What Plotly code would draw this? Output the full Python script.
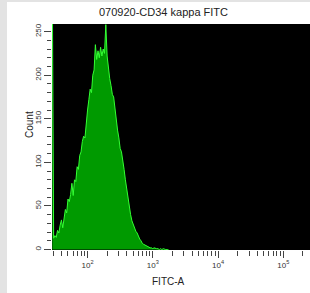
import plotly.graph_objects as go

# ---- data ----
title_text = "070920-CD34 kappa FITC"
x_label = "FITC-A"
y_label = "Count"

bin_start_log = 1.46   # log10 of first bin (FITC-A)
bin_step_log = 0.02    # bin width in decades

counts = [
    300, 13, 16, 14, 22, 19, 28, 34, 25, 38,
    46, 42, 58, 55, 63, 76, 62, 80, 78, 95,
    92, 108, 112, 124, 130, 128, 150, 160, 172, 184,
    180, 200, 206, 235, 218, 228, 220, 232, 222, 230,
    225, 258, 222, 205, 196, 188, 178, 175, 160, 145,
    137, 128, 116, 112, 98, 92, 80, 70, 55, 48,
    40, 33, 28, 24, 21, 19, 15, 12, 10, 7,
    6, 5, 4, 3, 3, 2, 2, 1, 2, 1,
    1, 1, 0, 1, 0, 1, 0, 0, 0, 0,
]

y_ticks = [0, 50, 100, 150, 200, 250]
y_minor = [10, 20, 30, 40, 60, 70, 80, 90, 110, 120, 130, 140,
           160, 170, 180, 190, 210, 220, 230, 240]
x_ticks = [100, 1000, 10000, 100000]
x_ticktext = ["10<sup>2</sup>", "10<sup>3</sup>", "10<sup>4</sup>", "10<sup>5</sup>"]
x_minor = [30, 40, 50, 60, 70, 80, 90,
           200, 300, 400, 500, 600, 700, 800, 900,
           2000, 3000, 4000, 5000, 6000, 7000, 8000, 9000,
           20000, 30000, 40000, 50000, 60000, 70000, 80000, 90000,
           200000]

x_vals = [10 ** (bin_start_log + bin_step_log * i) for i in range(len(counts))]

FONT = "Arial, Liberation Sans, sans-serif"

fig = go.Figure()
fig.add_trace(go.Scatter(
    x=x_vals, y=counts, mode="lines",
    line=dict(color="#33ff33", width=1),
    fill="tozeroy", fillcolor="#009a00",
    hoverinfo="skip", showlegend=False,
))

W, H = 310, 293
L, R, T, B = 52, 0, 24, 43
pw, ph = W - L - R, H - T - B

def px(x):
    return (x - L) / pw

def py(y):
    return (H - B - y) / ph

shapes = [
    dict(type="rect", xref="paper", yref="paper", layer="below",
         x0=px(0), x1=px(7), y0=py(H), y1=py(0),
         fillcolor="#e3e3e3", line=dict(width=0)),
    dict(type="rect", xref="paper", yref="paper", layer="below",
         x0=px(0), x1=1.0, y0=py(2), y1=py(0),
         fillcolor="#e3e3e3", line=dict(width=0)),
]

annotations = [
    dict(text=title_text, xref="paper", yref="paper", x=px(163), y=py(12),
         showarrow=False, font=dict(family=FONT, size=11, color="#222"),
         xanchor="center", yanchor="middle"),
    dict(text=x_label, xref="paper", yref="paper", x=px(168), y=py(281),
         showarrow=False, font=dict(family=FONT, size=10, color="#222"),
         xanchor="center", yanchor="middle"),
    dict(text=y_label, xref="paper", yref="paper", x=px(29), y=py(125),
         showarrow=False, textangle=-90, font=dict(family=FONT, size=10, color="#222"),
         xanchor="center", yanchor="middle"),
]

fig.update_layout(
    width=W, height=H, autosize=False,
    margin=dict(l=L, r=R, t=T, b=B, pad=0, autoexpand=False),
    paper_bgcolor="white", plot_bgcolor="black",
    shapes=shapes, annotations=annotations,
    font=dict(family=FONT, size=8, color="#333"),
    xaxis=dict(
        type="log", range=[1.455, 5.41], showgrid=False, zeroline=False,
        showline=False, automargin=False,
        tickmode="array", tickvals=x_ticks, ticktext=x_ticktext,
        ticks="outside", ticklen=7, tickwidth=1, tickcolor="#444",
        tickfont=dict(family=FONT, size=8, color="#333"),
        minor=dict(tickmode="array", tickvals=x_minor, ticks="outside",
                   ticklen=5, tickwidth=1, tickcolor="#444", showgrid=False),
        fixedrange=True,
    ),
    yaxis=dict(
        range=[-0.5, 258.7], showgrid=False, zeroline=False, showline=False,
        automargin=False,
        tickmode="array", tickvals=y_ticks, ticktext=[str(v) for v in y_ticks],
        ticks="outside", ticklen=7, tickwidth=1, tickcolor="#444", tickangle=-90,
        tickfont=dict(family=FONT, size=8, color="#333"),
        minor=dict(tickmode="array", tickvals=y_minor, ticks="outside",
                   ticklen=4, tickwidth=1, tickcolor="#444", showgrid=False),
        fixedrange=True,
    ),
)

post = ("document.body.style.margin='0';document.body.style.padding='0';"
        "document.body.style.overflow='hidden';"
        "document.documentElement.style.overflow='hidden';")

fig.write_html("out.html", config={"displayModeBar": False}, post_script=post)
